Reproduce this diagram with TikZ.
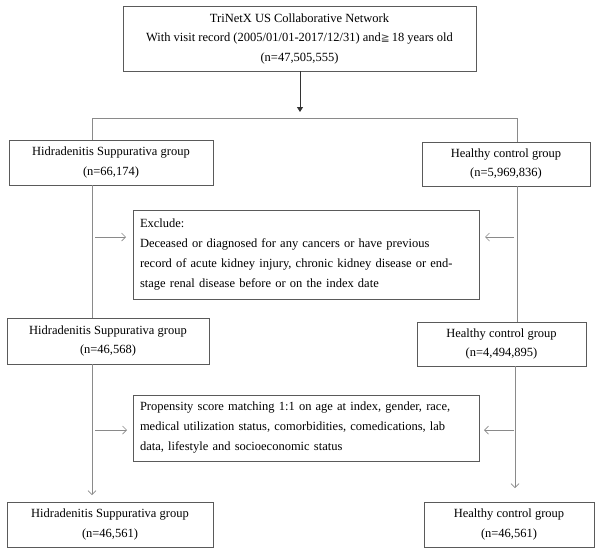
\documentclass[tikz,border=0pt]{standalone}
\usepackage{fontspec}
\setmainfont{Liberation Serif}
\newfontfamily\symfont{DejaVu Sans}
\usetikzlibrary{arrows.meta}
\definecolor{boxc}{HTML}{5A5A5A}
\definecolor{linec}{HTML}{8A8A8A}
\tikzset{
  box/.style={draw=boxc, line width=0.9pt, inner sep=0pt, align=center,
    font=\fontsize{12.5}{19.5}\selectfont},
  lbox/.style={draw=boxc, line width=0.9pt, inner xsep=7pt, inner ysep=0pt, align=left,
    font=\fontsize{12.5}{20}\selectfont},
  conn/.style={draw=linec, line width=0.9pt},
  oarrow/.style={conn, -{Straight Barb[length=4pt,width=8pt,line width=0.7pt]}},
  farrow/.style={draw=black!80, line width=0.8pt, -{Triangle[length=5pt,width=6pt]}}
}
\begin{document}
\begin{tikzpicture}[x=1pt,y=-1pt]
\useasboundingbox (0,0) rectangle (600,552);
\fill[white] (0,0) rectangle (600,552);

\node[box, minimum width=353pt, minimum height=65pt] (top) at (299.5,38.5)
  {TriNetX US Collaborative Network\\
   With visit record (2005/01/01-2017/12/31) and{\symfont\fontsize{10.5}{19.5}\selectfont\color{black!75}≧}\,18 years old\\
   (n=47,505,555)};

\node[box, minimum width=204pt, minimum height=45pt] (hs1) at (111,162.5)
  {Hidradenitis Suppurativa group\\(n=66,174)};
\node[box, minimum width=168pt, minimum height=44pt] (hc1) at (506,164)
  {Healthy control group\\(n=5,969,836)};

\node[lbox, text width=332pt, minimum height=89pt] (excl) at (306,254.5)
  {Exclude:\\
   Deceased or diagnosed for any cancers or have previous\\
   record of acute kidney injury, chronic kidney disease or end-\\
   stage renal disease before or on the index date};

\node[box, minimum width=202pt, minimum height=46pt] (hs2) at (108,341)
  {Hidradenitis Suppurativa group\\(n=46,568)};
\node[box, minimum width=169pt, minimum height=44pt] (hc2) at (501.5,344)
  {Healthy control group\\(n=4,494,895)};

\node[lbox, text width=332pt, minimum height=66pt] (ps) at (306,428)
  {Propensity score matching 1:1 on age at index, gender, race,\\
   medical utilization status, comorbidities, comedications, lab\\
   data, lifestyle and socioeconomic status};

\node[box, minimum width=206pt, minimum height=45pt] (hs3) at (110,524.5)
  {Hidradenitis Suppurativa group\\(n=46,561)};
\node[box, minimum width=170pt, minimum height=45pt] (hc3) at (509,524.5)
  {Healthy control group\\(n=46,561)};

% coordinates
\coordinate (tipA) at (300,112);
\coordinate (L) at (92,118);
\coordinate (R) at (517,118);
\coordinate (exLs) at (95,237);
\coordinate (exLe) at (126,237);
\coordinate (exRs) at (514,237);
\coordinate (exRe) at (485,237);
\coordinate (psLs) at (95,430);
\coordinate (psLe) at (127,430);
\coordinate (psRs) at (514,430);
\coordinate (psRe) at (484,430);
\coordinate (endL) at (92,495);
\coordinate (endR) at (515,488);

\draw[farrow] (top.south -| tipA) -- (tipA);
\draw[conn] (L) -- (R);
\draw[conn] (L) -- (L |- hs1.north);
\draw[conn] (R) -- (R |- hc1.north);
\draw[conn] (L |- hs1.south) -- (L |- hs2.north);
\draw[conn] (R |- hc1.south) -- (R |- hc2.north);
\draw[oarrow] (exLs) -- (exLe);
\draw[oarrow] (exRs) -- (exRe);
\draw[oarrow] (psLs) -- (psLe);
\draw[oarrow] (psRs) -- (psRe);
\draw[oarrow] (endL |- hs2.south) -- (endL);
\draw[oarrow] (endR |- hc2.south) -- (endR);
\end{tikzpicture}
\end{document}
